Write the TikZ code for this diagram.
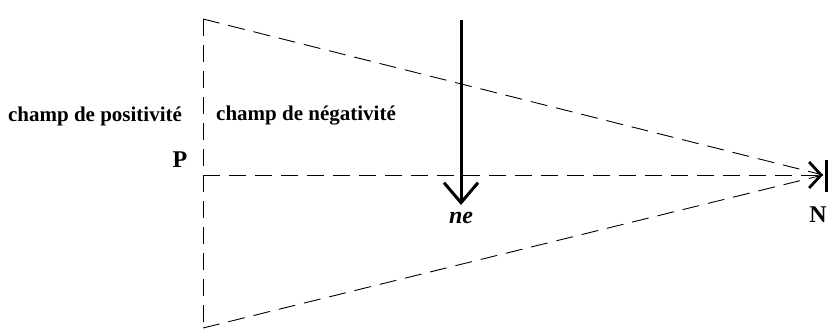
\documentclass[tikz,border=0pt]{standalone}
\usepackage{fontspec}
\setmainfont{Liberation Serif}
\usetikzlibrary{arrows.meta}

\begin{document}
\begin{tikzpicture}[
            x=1pt, y=-1pt,
            every node/.style={font=\fontsize{21}{24}\selectfont\bfseries, inner sep=0pt},
            % Definición de estilos
            champ/.style={dash pattern=on 17pt off 9pt, line width=0.9pt},
            bigletter/.style={font=\fontsize{24}{26}\selectfont\bfseries},
            fleche/.style={line width=3pt, -{Straight Barb[length=20pt, width=34pt, line width=3pt]}},
            flechen/.style={line width=0.9pt, dash pattern=on 17pt off 9pt, -{Straight Barb[length=12pt, width=26pt, line width=2.8pt]}}
        ]

            \useasboundingbox (0,0) rectangle (828,331);

            % --- Points ---
            \coordinate (haut) at (203,19);
            \coordinate (bas) at (203,328);
            \coordinate (p) at (203,175);
            \coordinate (n) at (823,175);
            \coordinate (barhaut) at (826,160);
            \coordinate (barbas) at (826,192);
            \coordinate (ehaut) at (461,20);
            \coordinate (ebas) at (461,205);

            % --- Textes ---
            \node (pos) at (95,116) {champ de positivité};
            \node (neg) at (306,116) {champ de négativité};
            \node (plabel) [bigletter] at (180,160) {P};
            \node (nlabel) [bigletter] at (818,215) {N};
            \node (ne) [bigletter] at (461,218) {\itshape ne};

            % --- Lignes ---
            \draw [champ] (haut) -- (bas);
            \draw [champ] (haut) -- (n);
            \draw [champ] (bas) -- (n);
            \draw [flechen] (p) -- (n);
            \draw [line width=3pt] (barhaut) -- (barbas);
            \draw [fleche] (ehaut) -- (ebas);

        \end{tikzpicture}
\end{document}
